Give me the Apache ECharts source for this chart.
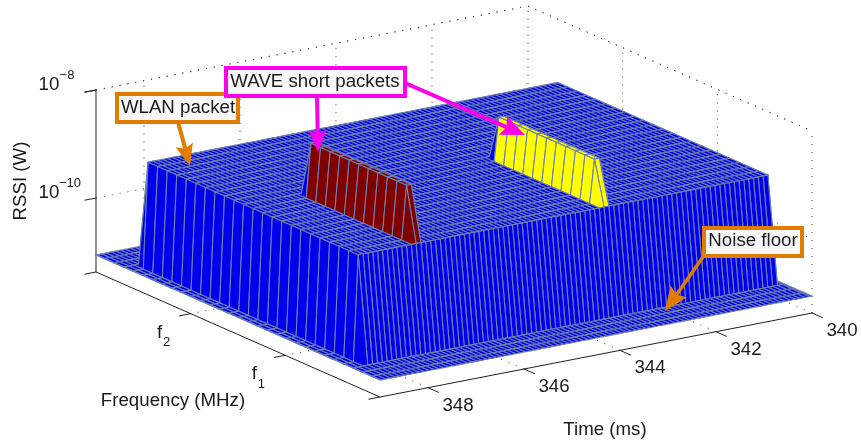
<!DOCTYPE html>
<html><head><meta charset="utf-8">
<style>html,body{margin:0;padding:0;background:#fff}#c{width:861px;height:445px}</style>
<script src="https://cdn.jsdelivr.net/npm/echarts@6/dist/echarts.min.js"></script>
</head><body><div id="c"></div>
<script>
// ---- values ----
const timeTicks = [340, 342, 344, 346, 348];
const freqTicks = [1, 2];
const freqTickNames = ['1', '2'];
const rssiTicks = [-10, -8];
const timeRange = [340, 349];
const freqRange = [0, 3];
const rssiLogRange = [-11.37, -8];
const noiseFloorW = 8.8e-12;
const wlanLevelW = 8.1e-10;
const wlanTime = [340.15, 348.68];
const wlanFreq = [0.39, 2.61];
const wavePacketTimes = [[347.38, 347.48], [343.46, 343.56]];
const wavePacketFreq = [0.49, 1.5];
const wavePacketLevelsW = [8.1e-9, 5.2e-9];
const wavePacketColors = ['#800000', '#ffff00'];
const surfaceBlue = '#0000ec';
const meshEdge = '#6c7fb0';
const meshTimeStep = 0.1004;
const meshFreqStep = 0.1009;

// ---- 3D to plane projection (orthographic view) ----
const PX_T = [48, -9.33], PX_F = [-94.67, -41.67], PX_Z = 54, ORIGIN = [380, 397];
function project(t, f, w) {
  const T = timeRange[1] - t;
  return [ORIGIN[0] + PX_T[0] * T + PX_F[0] * f,
          ORIGIN[1] + PX_T[1] * T + PX_F[1] * f - PX_Z * (Math.log10(w) - rssiLogRange[0])];
}
const W = l => Math.pow(10, l);
const wMin = W(rssiLogRange[0]), wMax = W(rssiLogRange[1]);
const EPS = 0.02;
const within = (v, r) => v >= r[0] - EPS && v <= r[1] + EPS;

function vertex(t, f) {
  for (let k = 0; k < wavePacketTimes.length; k++)
    if (within(t, wavePacketTimes[k]) && within(f, wavePacketFreq))
      return { w: wavePacketLevelsW[k], c: wavePacketColors[k] };
  if (within(t, wlanTime) && within(f, wlanFreq)) return { w: wlanLevelW, c: surfaceBlue };
  return { w: noiseFloorW, c: surfaceBlue };
}

// mesh nodes, aligned on the WLAN plateau edges
const timeMesh = [timeRange[0]];
for (let k = -1; k <= 88; k++) timeMesh.push(+(wlanTime[0] + k * meshTimeStep).toFixed(4));
timeMesh.push(timeRange[1]);
const freqMesh = [freqRange[0]];
for (let k = -3; k <= 25; k++) freqMesh.push(+(wlanFreq[0] + k * meshFreqStep).toFixed(4));
freqMesh.push(freqRange[1]);

// cells, painted back to front
const cells = [], cellColors = [];
for (let i = 0; i < timeMesh.length - 1; i++) {
  for (let j = freqMesh.length - 2; j >= 0; j--) {
    const a = timeMesh[i], b = timeMesh[i + 1], c = freqMesh[j], d = freqMesh[j + 1];
    cells.push([a, b, c, d, vertex(a, c).w, vertex(b, c).w, vertex(b, d).w, vertex(a, d).w]);
    cellColors.push(vertex(a, d).c);
  }
}

// dotted box grid
const gridSegs = [];
const [t0, t1] = timeRange, [f0, f1] = freqRange;
rssiTicks.map(W).forEach(w => {
  gridSegs.push([t1, f1, w, t0, f1, w], [t0, f1, w, t0, f0, w]);
});
gridSegs.push([t1, f1, wMax, t0, f1, wMax], [t0, f1, wMax, t0, f0, wMax]);
gridSegs.push([t0, f1, wMin, t0, f1, wMax], [t0, f0, wMin, t0, f0, wMax]);
timeTicks.forEach(t => {
  if (t !== t0) gridSegs.push([t, f1, wMin, t, f1, wMax]);
  gridSegs.push([t, f0, wMin, t, f1, wMin]);
});
freqTicks.forEach(f => {
  gridSegs.push([t0, f, wMin, t0, f, wMax], [t0, f, wMin, t1, f, wMin]);
});

// axis lines and ticks
const axisSegs = [
  [t1, f1, wMin, t1, f1, wMax],
  [t1, f1, wMin, t1, f0, wMin],
  [t1, f0, wMin, t0, f0, wMin]
];
const TICK_T = 0.24, TICK_F = -0.115;
timeTicks.forEach(t => axisSegs.push([t, f0, wMin, t, f0 + TICK_F, wMin]));
freqTicks.concat([f0]).forEach(f => axisSegs.push([t1, f, wMin, t1 + TICK_T, f, wMin]));
rssiTicks.forEach(l => axisSegs.push([t1, f1, W(l), t1 + TICK_T, f1, W(l)]));
axisSegs.push([t1, f1, wMax, t1 + TICK_T, f1, wMax]);
axisSegs.push([t1, f1, wMin, t1 + TICK_T, f1, wMin]);

const FONT = '18.7px "Liberation Sans", Arial, sans-serif';
const SUB = '13px "Liberation Sans", Arial, sans-serif';
const INK = '#1a1a1a';

// tick labels: [text, t, f, w, dx, dy, font]
const tickLabels = [];
timeTicks.forEach(t => tickLabels.push([String(t), t, f0, wMin, 30, 18, FONT]));
freqTicks.forEach((f, k) => {
  tickLabels.push(['f', t1, f, wMin, -31, 19, FONT]);
  tickLabels.push([freqTickNames[k], t1, f, wMin, -24, 29, SUB]);
});
rssiTicks.forEach(l => {
  tickLabels.push(['10', t1, f1, W(l), -47, -5, FONT]);
  tickLabels.push(['\u2212' + Math.abs(l), t1, f1, W(l), l === -8 ? -29 : -26, -15, SUB]);
});

const segRender = (style) => (params, api) => {
  const p = api.coord(project(api.value(0), api.value(1), api.value(2)));
  const q = api.coord(project(api.value(3), api.value(4), api.value(5)));
  return { type: 'line', silent: true, shape: { x1: p[0], y1: p[1], x2: q[0], y2: q[1] }, style };
};

function arrow(from, tip, headLen, headHalf, notch, color, width) {
  const dx = tip[0] - from[0], dy = tip[1] - from[1], L = Math.hypot(dx, dy);
  const ux = dx / L, uy = dy / L, nx = -uy, ny = ux;
  const bx = tip[0] - ux * headLen, by = tip[1] - uy * headLen;
  const mx = tip[0] - ux * (headLen - notch), my = tip[1] - uy * (headLen - notch);
  return [
    { type: 'line', z: 20, shape: { x1: from[0], y1: from[1], x2: mx, y2: my }, style: { stroke: color, lineWidth: width } },
    { type: 'polygon', z: 20, shape: { points: [tip, [bx + nx * headHalf, by + ny * headHalf], [mx, my], [bx - nx * headHalf, by - ny * headHalf]] }, style: { fill: color } }
  ];
}
function box(x0, y0, x1, y1, color, text, cx, cy, z) {
  return [
    { type: 'rect', z, shape: { x: x0 + 2, y: y0 + 2, width: x1 - x0 - 4, height: y1 - y0 - 4 }, style: { fill: '#f8f8f8', stroke: color, lineWidth: 4 } },
    { type: 'text', z: z + 1, style: { text, x: cx, y: cy, font: FONT, fill: INK, align: 'center', verticalAlign: 'middle' } }
  ];
}
const ORANGE = '#e07d00', MAGENTA = '#ff00ee';

const chart = echarts.init(document.getElementById('c'), null, { renderer: 'canvas' });
chart.setOption({
  animation: false,
  backgroundColor: '#ffffff',
  grid: { left: 0, right: 0, top: 0, bottom: 0 },
  xAxis: { type: 'value', min: 0, max: 861, show: false },
  yAxis: { type: 'value', min: 0, max: 445, inverse: true, show: false },
  tooltip: { show: false },
  series: [
    { type: 'custom', coordinateSystem: 'cartesian2d', silent: true, clip: false, z: 1, progressive: 0, data: gridSegs,
      encode: { x: 0, y: 1 },
      renderItem: segRender({ stroke: '#333', lineWidth: 1, lineDash: [1, 7] }) },
    { type: 'custom', coordinateSystem: 'cartesian2d', silent: true, clip: false, z: 2, progressive: 0, data: axisSegs,
      encode: { x: 0, y: 1 },
      renderItem: segRender({ stroke: '#222', lineWidth: 1 }) },
    { type: 'custom', coordinateSystem: 'cartesian2d', silent: true, clip: false, z: 3, progressive: 0, data: cells,
      encode: { x: 0, y: 1 },
      renderItem: (params, api) => {
        const a = api.value(0), b = api.value(1), c = api.value(2), d = api.value(3);
        const pts = [project(a, c, api.value(4)), project(b, c, api.value(5)), project(b, d, api.value(6)), project(a, d, api.value(7))].map(p => api.coord(p));
        return { type: 'polygon', silent: true, shape: { points: pts }, style: { fill: cellColors[params.dataIndex], stroke: meshEdge, lineWidth: 1.1 } };
      } },
    { type: 'custom', coordinateSystem: 'cartesian2d', silent: true, clip: false, z: 4, progressive: 0,
      data: tickLabels.map((l, k) => [k, l[1], l[2], l[3]]),
      encode: { x: 1, y: 2 },
      renderItem: (params, api) => {
        const l = tickLabels[params.dataIndex];
        const p = api.coord(project(l[1], l[2], l[3]));
        return { type: 'text', silent: true, style: { text: l[0], x: p[0] + l[4], y: p[1] + l[5], font: l[6], fill: INK, align: 'center', verticalAlign: 'middle' } };
      } }
  ],
  graphic: { elements: [
    { type: 'text', z: 10, style: { text: 'Frequency (MHz)', x: 173, y: 401, font: FONT, fill: INK, align: 'center', verticalAlign: 'middle' } },
    { type: 'text', z: 10, style: { text: 'Time (ms)', x: 605, y: 430, font: FONT, fill: INK, align: 'center', verticalAlign: 'middle' } },
    { type: 'text', z: 10, x: 21, y: 181, rotation: Math.PI / 2, style: { text: 'RSSI (W)', x: 0, y: 0, font: FONT, fill: INK, align: 'center', verticalAlign: 'middle' } },
    ...arrow([178, 122], [190, 166], 22, 9, 4, ORANGE, 4),
    ...arrow([703, 257], [665, 311], 24, 10, 4, ORANGE, 3.5),
    ...box(115, 92, 240, 124, ORANGE, 'WLAN packet', 178, 108, 22),
    ...box(702, 226, 804, 258, ORANGE, 'Noise floor', 753, 241, 22),
    ...arrow([317, 96], [318, 152], 22, 9, 4, MAGENTA, 4),
    ...arrow([405, 83], [525, 135], 24, 10, 4, MAGENTA, 4),
    ...box(224, 66, 407, 98, MAGENTA, 'WAVE short packets', 315, 82, 24)
  ] }
});
</script></body></html>
